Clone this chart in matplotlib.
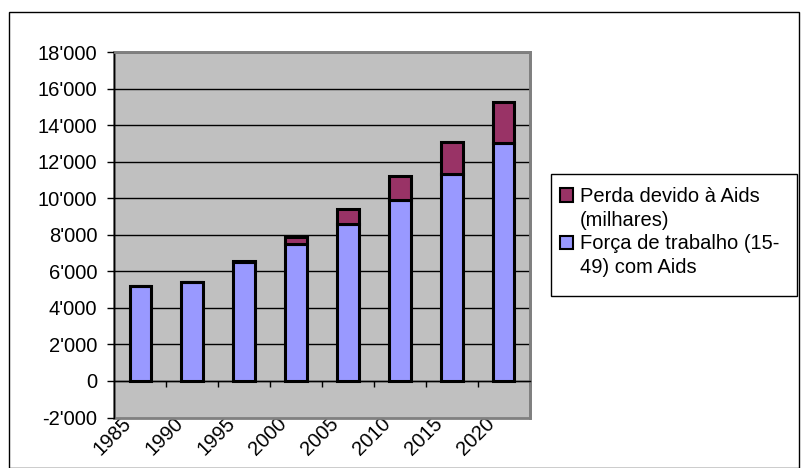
import matplotlib
matplotlib.use("Agg")
import matplotlib.pyplot as plt
from matplotlib.patches import Rectangle, Patch
from matplotlib.ticker import FuncFormatter, FixedLocator
from matplotlib.transforms import ScaledTranslation, blended_transform_factory

plt.rcParams['font.family'] = ['Liberation Sans', 'DejaVu Sans']

years = ['1985', '1990', '1995', '2000', '2005', '2010', '2015', '2020']
labor_force = [5200, 5400, 6500, 7500, 8600, 9900, 11300, 13000]
aids_loss = [0, 0, 80, 350, 800, 1300, 1800, 2250]
y_ticks = list(range(-2000, 18001, 2000))
legend_lines = [('Perda devido à Aids', '(milhares)'),
                ('Força de trabalho (15-', '49) com Aids')]

FS = 14.5
W, H = 801, 468
fig = plt.figure(figsize=(W / 100, H / 100), dpi=100)
fig.patch.set_facecolor('white')

# figure border
fig.patches.append(Rectangle((9 / W, 0), (799 - 9) / W, (H - 12) / H,
                             transform=fig.transFigure, fill=False,
                             ec='black', lw=1.0))

L, R, T, B = 114.5, 529.5, 52, 417.5
ax = fig.add_axes([L / W, 1 - B / H, (R - L) / W, (B - T) / H])
ax.set_facecolor('#C0C0C0')
ax.set_zorder(1)

x = list(range(len(years)))
bw = 0.42
ax.bar(x, labor_force, width=bw, color='#9999FF', edgecolor='black',
       linewidth=2.2, zorder=3)
ax.bar(x, aids_loss, width=bw, bottom=labor_force, color='#993366',
       edgecolor='black', linewidth=2.2, zorder=3)

ax.set_xlim(-0.5, len(years) - 0.5)
ax.set_ylim(-2000, 18000)

# gridlines
for v in y_ticks:
    if v > -2000:
        ax.axhline(v, color='black', lw=1.0, zorder=1)

ax.yaxis.set_major_locator(FixedLocator(y_ticks))
ax.yaxis.set_major_formatter(FuncFormatter(lambda v, p: f"{int(v):,}".replace(',', "'")))
ax.tick_params(axis='y', direction='out', length=5, width=1, labelsize=FS, pad=7.5)

for s in ['top', 'right']:
    ax.spines[s].set_color('#808080')
    ax.spines[s].set_linewidth(2)
ax.spines['left'].set_color('black')
ax.spines['left'].set_linewidth(1)
ax.spines['bottom'].set_position(('data', 0))
ax.spines['bottom'].set_color('black')
ax.spines['bottom'].set_linewidth(1)
ax.add_patch(Rectangle((0, 0), 1, 1, transform=ax.transAxes, fill=False,
                       ec='#808080', lw=2, zorder=0.5, clip_on=False))

ax.set_xticks([])
ax.set_xticks([i + 0.5 for i in range(len(years))], minor=True)
ax.tick_params(axis='x', which='minor', direction='out', length=4.5, width=1)

# category labels, drawn beneath the plot area (as in the original)
base = blended_transform_factory(ax.transData, ax.transAxes)
for i, yr in enumerate(years):
    tr = base + ScaledTranslation(-12 / 100, -3 / 100, fig.dpi_scale_trans)
    fig.text(i, 0, yr, transform=tr, rotation=45, ha='right', va='center',
             rotation_mode='anchor', fontsize=FS, zorder=0)

# legend: handle aligned with the first line of each entry
blank = Patch(facecolor='none', edgecolor='none')
handles = [Patch(facecolor='#993366', edgecolor='black', lw=1.5), blank,
           Patch(facecolor='#9999FF', edgecolor='black', lw=1.5), blank]
labels = [legend_lines[0][0], legend_lines[0][1],
          legend_lines[1][0], legend_lines[1][1]]
leg = fig.legend(handles, labels, loc='upper left',
                 bbox_to_anchor=(551 / W, 1 - 178 / H), fontsize=FS,
                 frameon=False, borderaxespad=0,
                 handlelength=0.65, handleheight=0.65, handletextpad=0.35,
                 borderpad=0.45, labelspacing=0.23)
# legend frame (Excel style, extends below the entries)
fig.patches.append(Rectangle((551 / W, 1 - 296 / H), (797 - 551) / W, (296 - 174) / H,
                             transform=fig.transFigure, fill=True, fc='white',
                             ec='black', lw=1.0, zorder=-1))

fig.savefig('out.png', dpi=100)
